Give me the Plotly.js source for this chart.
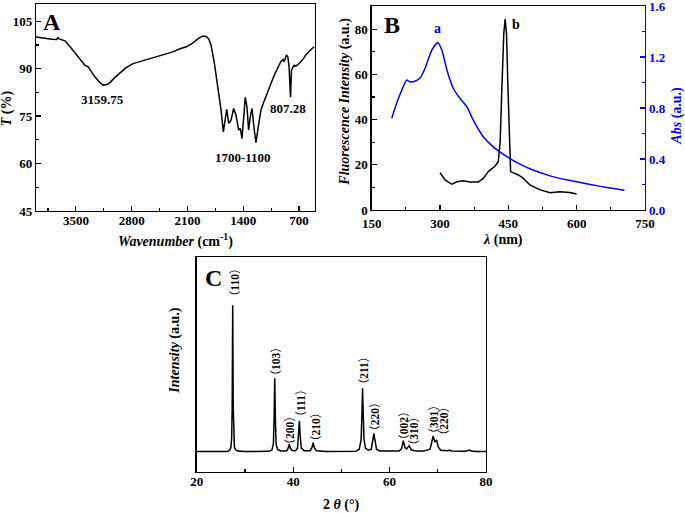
<!DOCTYPE html>
<html>
<head>
<meta charset="utf-8">
<script src="https://cdn.plot.ly/plotly-3.0.1.min.js"></script>
<style>body{margin:0;background:#fff}</style>
</head>
<body>
<div id="graph" style="width:685px;height:513px"></div>
<script>
// Panel A - FTIR
var ftirWn = [4000,3900,3800,3741,3725,3710,3637,3560,3492,3420,3388,3346,3300,3262,3200,3159,3110,3075,3020,2950,2870,2783,2650,2491,2380,2283,2200,2116,2050,1950,1900,1860,1833,1804,1762,1721,1679,1650,1625,1608,1583,1554,1521,1491,1458,1437,1416,1396,1375,1354,1333,1312,1291,1262,1241,1212,1179,1150,1096,1012,929,900,887,858,841,825,812,807,802,795,780,762,740,700,650,616,560,512]
var ftirT = [100.0,99.6,99.3,99.2,99.8,99.4,98.8,96.5,94.3,92.0,91.1,90.6,88.8,87.4,85.6,84.8,85.0,85.5,87.0,88.5,90.3,91.6,92.6,93.7,94.6,95.3,96.2,96.9,97.8,99.8,100.3,100.1,99.4,97.4,91.6,84.3,76.9,70.0,73.7,77.1,72.7,73.7,77.4,75.3,70.6,71.1,67.9,73.7,80.9,77.9,70.6,74.8,77.4,70.6,66.6,71.6,76.9,79.0,82.7,87.9,92.2,92.9,92.2,94.3,93.7,90.5,83.0,81.0,85.0,89.5,90.3,91.1,90.8,91.6,93.0,94.3,95.8,96.9]
var ftirTicks = [3500,2800,2100,1400,700]
var ftirLabels = ['3159.75','1700-1100','807.28']
var ftirLabelX = [3162,1400,837]
var ftirLabelY = [80.4,62,77.5]

// Panel B - absorption (a) and fluorescence (b)
var absWl = [194,205,216,227,234,245,256,267,282,295,304,315,329,344,359,373,395,417,446,470,500,540,580,630,670,705]
var absVal = [0.72,0.84,0.94,1.02,1.005,1.01,1.035,1.11,1.255,1.315,1.255,1.10,0.955,0.875,0.81,0.705,0.575,0.495,0.42,0.37,0.32,0.27,0.235,0.2,0.175,0.155]
var absTicks = [0,0.4,0.8,1.2,1.6]
var flWl = [300,311,326,337,351,366,384,395,406,421,428,432,436,440,443,446,449,452,455,472,483,498,520,542,563,585,600]
var flVal = [16.5,13.3,11.4,12.5,13.0,12.4,12.4,14.0,17.0,19.5,21.5,30,55,78,84.5,78,55,30,17,15.5,14,11,8.9,7.7,8.1,7.8,7.1]

// Panel C - XRD
var xrdTheta = [20,22,24,26,26.5,26.9,27.1,27.25,27.35,27.46,27.57,27.67,27.82,28.05,28.5,30,33,35,35.6,35.9,36.05,36.18,36.31,36.46,36.8,37.5,38.6,38.95,39.2,39.45,39.8,40.5,40.9,41.15,41.3,41.45,41.7,42.3,43.5,43.9,44.15,44.4,44.8,47,50,53,53.7,54.1,54.28,54.4,54.52,54.7,55,55.6,56.2,56.55,56.75,56.95,57.3,58,60,62,62.5,62.85,63.2,63.5,64.05,64.5,65.5,67,68.4,68.8,69.05,69.4,69.75,70.1,70.6,72.1,72.4,72.8,75.5,76.2,76.5,76.9,78,80]
var xrdI = [9.4,9.3,9.3,9.4,9.5,10.2,11.5,16,30,77.7,30,16,11.5,10.2,9.6,9.4,9.4,9.5,10.2,13,25,43.6,25,13,10.3,9.7,9.7,10.8,12.8,10.8,9.9,9.8,11,17,23.8,17,11,9.8,9.8,11.2,13.5,11.2,9.8,9.4,9.4,9.5,10.5,15,28,38.9,28,15,11,10,10.5,15,17.9,15,10.4,9.7,9.5,9.6,10.8,14.5,11.2,10.6,12.1,10.2,9.6,9.6,10.5,14.5,16.7,13.8,14.8,11.5,10,9.8,10.1,9.7,9.5,9.8,10.1,9.7,9.4,9.4]
var hklText = ['110','103','200','111','210','211','220','002','310','301','220']
var hklX = [27.6,36.2,39.2,41.4,44.4,54.4,56.6,62.7,64.8,68.9,71.0]
var hklY = [88.6,51.3,19.4,32.2,21,47.1,25.7,21.3,18.7,24.6,23.3]

var serif = 'Liberation Serif, Times New Roman, serif'
var tickF = {family: serif, size: 13, color: '#000', weight: 'bold'}
var titleF = {family: serif, size: 14, color: '#000', weight: 'bold'}

var traceA = {x: ftirWn, y: ftirT, xaxis: 'x', yaxis: 'y', mode: 'lines',
  line: {color: '#000', width: 1.5}}
var traceAbs = {x: absWl, y: absVal, xaxis: 'x2', yaxis: 'y3', mode: 'lines',
  line: {color: '#0000ff', width: 1.5, shape: 'spline', smoothing: 0.6}}
var traceFl = {x: flWl, y: flVal, xaxis: 'x2', yaxis: 'y2', mode: 'lines',
  line: {color: '#000', width: 1.5}}
var traceC = {x: xrdTheta, y: xrdI, xaxis: 'x3', yaxis: 'y4', mode: 'lines',
  line: {color: '#000', width: 1.5}}

function ax(extra) {
  var base = {showline: true, linecolor: '#000', linewidth: 1.3, mirror: true,
    ticks: 'inside', ticklen: 5, tickwidth: 1.2, tickcolor: '#000', ticklabeloverflow: 'allow',
    showgrid: false, zeroline: false, tickfont: tickF, autorange: false}
  for (var k in extra) base[k] = extra[k]
  return base
}

var anns = []
function note(text, x, y, xref, yref, opt) {
  var a = {text: text, x: x, y: y, xref: xref, yref: yref, showarrow: false,
    font: {family: serif, size: 14, color: '#000', weight: 'bold'}, xanchor: 'center', yanchor: 'middle'}
  for (var k in opt) a[k] = opt[k]
  anns.push(a)
}

// labels in panels
for (var i = 0; i < ftirLabels.length; i++) {
  note(ftirLabels[i], ftirLabelX[i], ftirLabelY[i], 'x', 'y', {font: {family: serif, size: 13, color: '#000', weight: 'bold'}})
}
var br = '<span style="font-family:Noto Sans CJK SC;font-weight:normal">'
for (var i = 0; i < hklText.length; i++) {
  note(br + '（</span>' + hklText[i] + br + '）</span>', hklX[i], hklY[i], 'x3', 'y4', {textangle: -90,
    font: {family: serif, size: 11.5, color: '#000', weight: 'bold'}})
}
note('a', 294, 80.4, 'x2', 'y2', {font: {family: serif, size: 14, color: '#0000ff', weight: 'bold'}})
note('b', 467, 82.3, 'x2', 'y2')

// panel letters
var big = {family: serif, size: 24, color: '#000', weight: 'bold'}
note('A', 0.0759, 0.957, 'paper', 'paper', {font: big})
note('B', 0.5718, 0.951, 'paper', 'paper', {font: big})
note('C', 0.3114, 0.4575, 'paper', 'paper', {font: big})

// axis titles
note('<i>Wavenumber</i> (cm<sup>-1</sup>)', 0.2555, 0.532, 'paper', 'paper', {font: titleF})
note('<i>T</i> (%)', 0.0107, 0.7895, 'paper', 'paper', {font: titleF, textangle: -90})
note('<i>λ</i> (nm)', 0.7348, 0.532, 'paper', 'paper', {font: titleF})
note('<i>Fluorescence Intensity</i> (a.u.)', 0.5036, 0.8018, 'paper', 'paper', {font: titleF, textangle: -90})
note('<i>Abs</i> (a.u.)', 0.9879, 0.774, 'paper', 'paper', {font: {family: serif, size: 14, color: '#0000ff', weight: 'bold'}, textangle: -90})
note('2 <i>θ</i> (°)', 0.4988, 0.0156, 'paper', 'paper', {font: titleF})
note('<i>Intensity</i> (a.u.)', 0.2555, 0.3164, 'paper', 'paper', {font: titleF, textangle: -90})

var layout = {
  width: 685, height: 513,
  margin: {l: 0, r: 0, t: 0, b: 0},
  showlegend: false,
  paper_bgcolor: '#fff', plot_bgcolor: '#fff',
  xaxis: ax({domain: [0.0526, 0.4599], anchor: 'y', range: [4000, 500], tickmode: 'array', tickvals: ftirTicks,
    ticktext: ftirTicks.map(String), ticklabelstandoff: -3,
    minor: {ticks: 'inside', ticklen: 3, dtick: 350, tick0: 700, tickcolor: '#000'}}),
  yaxis: ax({domain: [0.5887, 0.992], anchor: 'x', range: [45, 110.4], tick0: 45, dtick: 15,
    minor: {ticks: 'inside', ticklen: 3, dtick: 7.5, tick0: 45, tickcolor: '#000'}}),
  xaxis2: ax({domain: [0.5426, 0.9416], anchor: 'y2', range: [150, 750], tick0: 150, dtick: 150, ticklabelstandoff: 1,
    minor: {ticks: 'inside', ticklen: 3, dtick: 75, tick0: 150, tickcolor: '#000'}}),
  yaxis2: ax({domain: [0.5906, 0.9883], anchor: 'x2', range: [0, 90.3], tick0: 0, dtick: 20, mirror: false,
    minor: {ticks: 'inside', ticklen: 3, dtick: 10, tick0: 0, tickcolor: '#000'}}),
  yaxis3: ax({overlaying: 'y2', anchor: 'x2', side: 'right', range: [0, 1.6005], tickmode: 'array',
    tickvals: absTicks, ticktext: absTicks.map(function (v) { return v.toFixed(1) }),
    mirror: false, linecolor: '#0000ff', tickcolor: '#0000ff',
    tickfont: {family: serif, size: 13, color: '#0000ff', weight: 'bold'},
    minor: {ticks: 'inside', ticklen: 3, dtick: 0.2, tick0: 0, tickcolor: '#0000ff'}}),
  xaxis3: ax({domain: [0.2872, 0.7095], anchor: 'y4', range: [20, 80], tick0: 20, dtick: 20, ticklabelstandoff: -3,
    minor: {ticks: 'inside', ticklen: 3, dtick: 10, tick0: 20, tickcolor: '#000'}}),
  yaxis4: ax({domain: [0.0805, 0.4984], anchor: 'x3', range: [0, 100], ticks: '', showticklabels: false}),
  annotations: anns
}

Plotly.newPlot('graph', [traceA, traceFl, traceAbs, traceC], layout, {displayModeBar: false, staticPlot: true})
</script>
</body>
</html>
